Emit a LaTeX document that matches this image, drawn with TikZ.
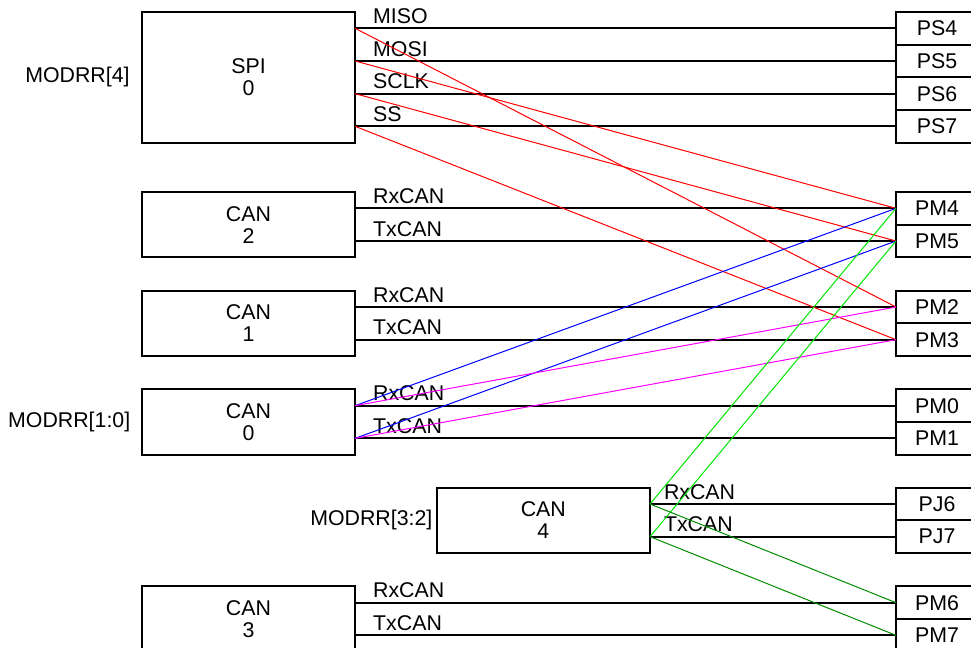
\documentclass[tikz,border=0pt]{standalone}
\usepackage{fontspec}
\setmainfont{Liberation Sans}
\usetikzlibrary{positioning}

\definecolor{wirelime}{RGB}{0,230,0}
\definecolor{wiregreen}{RGB}{0,140,0}
\definecolor{wiremag}{RGB}{255,0,255}

\tikzset{
  blk/.style={draw, line width=1.5pt, minimum width=160pt, minimum height=49pt, align=center, inner sep=0pt, outer sep=0pt},
  port/.style={draw, line width=1.5pt, minimum width=61.5pt, minimum height=24.5pt, inner sep=0pt, outer sep=0pt},
  sig/.style={line width=1.5pt},
  lbl/.style={at start, anchor=base west, inner sep=0pt, xshift=12.75pt, yshift=3.75pt},
  wire/.style={line width=0.75pt},
  modlbl/.style={inner sep=0pt},
}

\begin{document}
\begin{tikzpicture}[x=0.75pt, y=-0.75pt, every node/.style={font=\fontsize{16}{16.5}\selectfont}]
\useasboundingbox (0,0) rectangle (971,647);
\clip (0,0) rectangle (971,647);

\node[blk, minimum height=98pt] (spi) at (248.5,77.33) {SPI\\0};
\node[blk] (can2) at (248.5,224.67) {CAN\\2};
\node[blk] (can1) at (248.5,323.33) {CAN\\1};
\node[blk] (can0) at (248.5,422) {CAN\\0};
\node[blk] (can4) at (543.33,520.33) {CAN\\4};
\node[blk] (can3) at (248.5,619) {CAN\\3};

\node[modlbl, left=9pt of spi] (modspi) {MODRR[4]};
\node[modlbl, left=8.5pt of can0] (modcan0) {MODRR[1:0]};
\node[modlbl, left=3pt of can4] (modcan4) {MODRR[3:2]};

\foreach \name/\txt/\yy in {ps4/PS4/28.33, ps5/PS5/61, ps6/PS6/93.67, ps7/PS7/126.33,
    pm4/PM4/208.33, pm5/PM5/241, pm2/PM2/307, pm3/PM3/339.67, pm0/PM0/405.67, pm1/PM1/438.33,
    pj6/PJ6/504, pj7/PJ7/536.67, pm6/PM6/602.67, pm7/PM7/635.33}
  \node[port] (\name) at (937,\yy) {\txt};

\foreach \src/\dst/\txt in {spi/ps4/MISO, spi/ps5/MOSI, spi/ps6/SCLK, spi/ps7/SS,
    can2/pm4/RxCAN, can2/pm5/TxCAN, can1/pm2/RxCAN, can1/pm3/TxCAN,
    can0/pm0/RxCAN, can0/pm1/TxCAN, can3/pm6/RxCAN, can3/pm7/TxCAN}
  \draw[sig] (\src.east |- \dst) coordinate (\src-\txt) -- node[lbl] {\txt} (\dst.west);
\draw[sig] (can4.east |- pj6) coordinate (can4-RxCAN) -- node[lbl, xshift=-3pt] {RxCAN} (pj6.west);
\draw[sig] (can4.east |- pj7) coordinate (can4-TxCAN) -- node[lbl, xshift=-3pt] {TxCAN} (pj7.west);

\draw[wire, red] (spi-MISO) -- (pm2.west);
\draw[wire, red] (spi-MOSI) -- (pm4.west);
\draw[wire, red] (spi-SCLK) -- (pm5.west);
\draw[wire, red] (spi-SS) -- (pm3.west);
\draw[wire, blue] (can0-RxCAN) -- (pm4.west);
\draw[wire, blue] (can0-TxCAN) -- (pm5.west);
\draw[wire, wiremag] (can0-RxCAN) -- (pm2.west);
\draw[wire, wiremag] (can0-TxCAN) -- (pm3.west);
\draw[wire, wirelime] (can4-RxCAN) -- (pm4.west);
\draw[wire, wirelime] (can4-TxCAN) -- (pm5.west);
\draw[wire, wiregreen] (can4-RxCAN) -- (pm6.west);
\draw[wire, wiregreen] (can4-TxCAN) -- (pm7.west);
\end{tikzpicture}
\end{document}
